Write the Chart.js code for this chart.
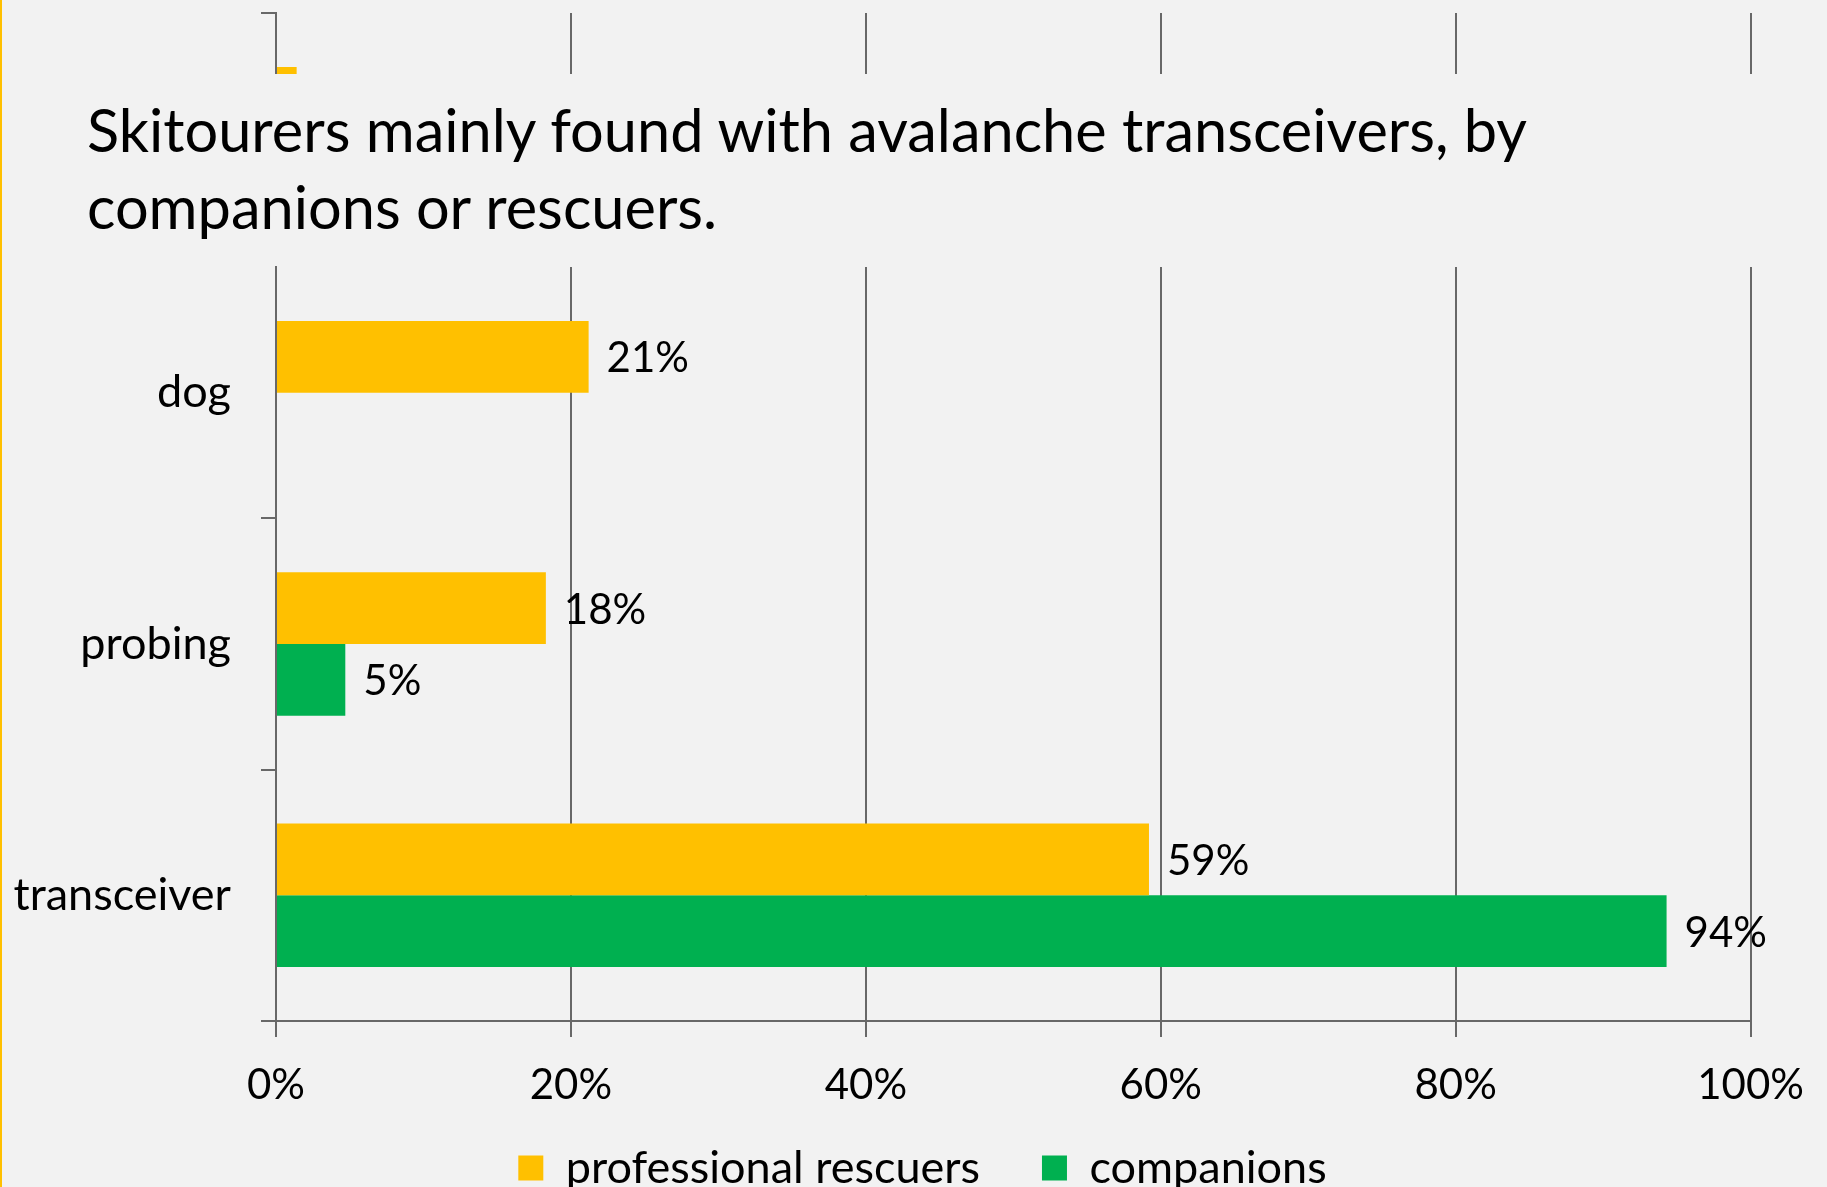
<!DOCTYPE html>
<html>
<head>
<meta charset="utf-8">
<script src="https://cdn.jsdelivr.net/npm/chart.js@4/dist/chart.umd.min.js"></script>
<style>
  html, body { margin: 0; padding: 0; background: #f2f2f2; overflow: hidden; width: 1827px; height: 1187px; }
  #frag { position: absolute; left: 0; top: 0; width: 1827px; height: 74px; overflow: hidden; }
  #main { position: absolute; left: 0; top: 0; width: 1827px; height: 1233px; }
  #title { position: absolute; left: 87px; top: 91px; font-family: Lato, "Open Sans", sans-serif; font-size: 59.5px; line-height: 77px; color: #000; white-space: nowrap; }
  #edge { position: absolute; left: 0; top: 0; width: 2px; height: 1187px; background: #ffc000; }
</style>
</head>
<body>
<div id="frag"><canvas id="fragCanvas" width="1827" height="285" style="width:1827px;height:285px"></canvas></div>
<div id="main"><canvas id="mainCanvas" width="1827" height="1233" style="width:1827px;height:1233px"></canvas></div>
<div id="title">Skitourers mainly found with avalanche transceivers, by<br>companions or rescuers.</div>
<div id="edge"></div>
<script>
// ---- data ----
const categories = ['dog', 'probing', 'transceiver'];
const rescuers = [21.2, 18.3, 59.2];
const companions = [null, 4.7, 94.3];
const seriesNames = ['professional rescuers', 'companions'];
const xTicks = [0, 20, 40, 60, 80, 100];
// fragment of the previous chart visible at the top edge
const fragCategories = [''];
const fragRescuers = [1.4];
const fragCompanions = [null];

const YELLOW = '#ffc000';
const GREEN = '#00b050';
const GRID = '#686868';
const FONT = 'Lato, "Open Sans", sans-serif';
const FS_NUM = 42;
const FS_TXT = 45;
const LEGEND_PAD = 62;
const CANVAS_H = 1233;
const X_AXIS_H = 95;
const LEGEND_TEXT_Y = 1168;
const LEGEND_SHIFT_X = 47;

const valueLabels = {
  id: 'valueLabels',
  afterDatasetsDraw(chart) {
    if (!chart.options.plugins.valueLabels || !chart.options.plugins.valueLabels.show) return;
    const ctx = chart.ctx;
    ctx.save();
    ctx.font = FS_NUM + 'px ' + FONT;
    ctx.fillStyle = '#000';
    ctx.textAlign = 'left';
    ctx.textBaseline = 'middle';
    chart.data.datasets.forEach((ds, di) => {
      const meta = chart.getDatasetMeta(di);
      meta.data.forEach((el, i) => {
        const v = ds.data[i];
        if (v === null || v === undefined) return;
        ctx.fillText(Math.round(v) + '%', el.x + 18, el.y + 2);
      });
    });
    ctx.restore();
  }
};

// nudge the legend box so it sits closer to the axis labels, as in the original
const legendNudge = {
  id: 'legendNudge',
  afterLayout(chart) {
    const lg = chart.legend;
    if (!lg || !chart.options.plugins.legend.display) return;
    const wantTop = LEGEND_TEXT_Y - LEGEND_PAD - FS_TXT / 2;
    const dy = wantTop - lg.top;
    lg.top += dy; lg.bottom += dy;
    lg.left += LEGEND_SHIFT_X; lg.right += LEGEND_SHIFT_X;
  }
};

function makeOptions(isMain) {
  return {
    indexAxis: 'y',
    responsive: false,
    animation: false,
    layout: { padding: { top: isMain ? 267 : 13, right: 76, left: 0, bottom: 0 } },
    datasets: { bar: { categoryPercentage: 0.571, barPercentage: 1.0 } },
    scales: {
      x: {
        min: 0, max: 100,
        afterBuildTicks(scale) { scale.ticks = xTicks.map(v => ({ value: v })); },
        ticks: {
          display: isMain,
          callback: v => v + '%',
          color: '#000',
          font: { family: FONT, size: FS_NUM },
          padding: 23,
          maxRotation: 0
        },
        grid: { color: GRID, lineWidth: 2, tickLength: 16, drawTicks: true },
        border: { display: true, color: GRID, width: 2 },
        afterFit(scale) { scale.height = isMain ? X_AXIS_H : 20; }
      },
      y: {
        ticks: {
          display: isMain,
          color: '#000',
          font: { family: FONT, size: FS_TXT },
          padding: 30
        },
        grid: {
          drawOnChartArea: false,
          tickLength: 15,
          lineWidth: 2,
          color: ctx => (isMain && ctx.index === 0) ? 'rgba(0,0,0,0)' : GRID
        },
        border: { display: true, color: GRID, width: 2 },
        afterFit(scale) { scale.width = 276; }
      }
    },
    plugins: {
      title: { display: false },
      tooltip: { enabled: false },
      valueLabels: { show: isMain },
      legend: {
        display: isMain,
        position: 'bottom',
        labels: {
          color: '#000',
          font: { family: FONT, size: FS_TXT },
          boxWidth: 25,
          boxHeight: 25,
          padding: LEGEND_PAD
        }
      }
    }
  };
}

new Chart(document.getElementById('mainCanvas'), {
  type: 'bar',
  data: {
    labels: categories,
    datasets: [
      { label: seriesNames[0], data: rescuers, backgroundColor: YELLOW, borderWidth: 0 },
      { label: seriesNames[1], data: companions, backgroundColor: GREEN, borderWidth: 0 }
    ]
  },
  options: makeOptions(true),
  plugins: [valueLabels, legendNudge]
});

new Chart(document.getElementById('fragCanvas'), {
  type: 'bar',
  data: {
    labels: fragCategories,
    datasets: [
      { label: seriesNames[0], data: fragRescuers, backgroundColor: YELLOW, borderWidth: 0 },
      { label: seriesNames[1], data: fragCompanions, backgroundColor: GREEN, borderWidth: 0 }
    ]
  },
  options: makeOptions(false),
  plugins: [valueLabels]
});
</script>
</body>
</html>
